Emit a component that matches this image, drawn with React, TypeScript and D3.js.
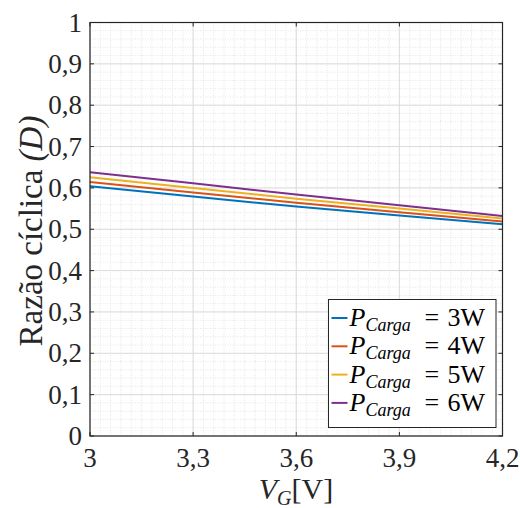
import React from "react";
import * as d3 from "d3";

const vg = [3.0, 3.3, 3.6, 3.9, 4.2];
const d3W = [0.604, 0.579, 0.555, 0.533, 0.512];
const d4W = [0.614, 0.589, 0.564, 0.541, 0.519];
const d5W = [0.626, 0.600, 0.574, 0.550, 0.526];
const d6W = [0.638, 0.611, 0.584, 0.558, 0.532];
const seriesLabels = ["3W", "4W", "5W", "6W"];
const xTicks = [3, 3.3, 3.6, 3.9, 4.2];
const yTicks = [0, 0.1, 0.2, 0.3, 0.4, 0.5, 0.6, 0.7, 0.8, 0.9, 1];

const colors = ["#0072BD", "#D95319", "#EDB120", "#7E2F8E"];
const FONT = "Liberation Serif";

export default function App() {
  const W = 520, H = 508;
  const L = 90, R = 502.5, T = 22.5, B = 436;
  const x = d3.scaleLinear().domain([3, 4.2]).range([L, R]);
  const y = d3.scaleLinear().domain([0, 1]).range([B, T]);
  const series = [d3W, d4W, d5W, d6W];
  const line = d3
    .line<[number, number]>()
    .x((d) => x(d[0]))
    .y((d) => y(d[1]));

  const xMinor = d3.range(0, 41).map((i) => 3 + i * 0.03);
  const yMinor = d3.range(0, 51).map((i) => i * 0.02);
  const fmt = (v: number) => d3.format("~g")(+v.toFixed(2)).replace(".", ",");

  const legX = 328.5, legY = 299.5, legW = 167.5, legH = 128;
  const rowY = (i: number) => legY + 18.5 + i * 28.3;

  return (
    <svg width={W} height={H} style={{ position: "absolute", left: 0, top: 0, background: "#fff" }}>
      <rect x={0} y={0} width={W} height={H} fill="#fff" />
      {/* minor grid */}
      {xMinor.map((v, i) => (
        <line key={"xm" + i} x1={x(v)} x2={x(v)} y1={T} y2={B} stroke="#e0e0e0" strokeWidth={0.8} strokeDasharray="1,1.5" />
      ))}
      {yMinor.map((v, i) => (
        <line key={"ym" + i} x1={L} x2={R} y1={y(v)} y2={y(v)} stroke="#e0e0e0" strokeWidth={0.8} strokeDasharray="1,1.5" />
      ))}
      {/* major grid */}
      {xTicks.map((v, i) => (
        <line key={"xg" + i} x1={x(v)} x2={x(v)} y1={T} y2={B} stroke="#dcdcdc" strokeWidth={1} />
      ))}
      {yTicks.map((v, i) => (
        <line key={"yg" + i} x1={L} x2={R} y1={y(v)} y2={y(v)} stroke="#dcdcdc" strokeWidth={1} />
      ))}
      {/* lines */}
      {series.map((s, k) => (
        <path
          key={"s" + k}
          d={line(vg.map((v, i) => [v, s[i]] as [number, number])) || ""}
          fill="none"
          stroke={colors[k]}
          strokeWidth={2}
        />
      ))}
      {/* ticks */}
      {xTicks.map((v, i) => (
        <g key={"xt" + i}>
          <line x1={x(v)} x2={x(v)} y1={B} y2={B - 4} stroke="#262626" strokeWidth={1} />
          <line x1={x(v)} x2={x(v)} y1={T} y2={T + 4} stroke="#262626" strokeWidth={1} />
          <text x={x(v)} y={467} textAnchor="middle" fontFamily={FONT} fontSize={27} fill="#262626">
            {fmt(v)}
          </text>
        </g>
      ))}
      {yTicks.map((v, i) => (
        <g key={"yt" + i}>
          <line x1={L} x2={L + 4} y1={y(v)} y2={y(v)} stroke="#262626" strokeWidth={1} />
          <line x1={R} x2={R - 4} y1={y(v)} y2={y(v)} stroke="#262626" strokeWidth={1} />
          <text x={82} y={y(v) + 9} textAnchor="end" fontFamily={FONT} fontSize={27} fill="#262626">
            {fmt(v)}
          </text>
        </g>
      ))}
      {/* box */}
      <rect x={L} y={T} width={R - L} height={B - T} fill="none" stroke="#262626" strokeWidth={1.2} />
      {/* legend */}
      <rect x={legX} y={legY} width={legW} height={legH} fill="#fff" stroke="#262626" strokeWidth={1} />
      {seriesLabels.map((lab, i) => (
        <g key={"lg" + i}>
          <line x1={legX + 3} x2={legX + 19} y1={rowY(i)} y2={rowY(i)} stroke={colors[i]} strokeWidth={2} />
          <text x={legX + 21} y={rowY(i) + 8} fontFamily={FONT} fontSize={26} fill="#000">
            <tspan fontStyle="italic">P</tspan>
            <tspan fontStyle="italic" fontSize={18} dy="5">Carga</tspan>
            <tspan x={legX + 96} dy="-5">=</tspan>
            <tspan x={legX + 119}>{lab}</tspan>
          </text>
        </g>
      ))}
      {/* axis labels */}
      <text x={296} y={499} textAnchor="middle" fontFamily={FONT} fontSize={30} fill="#262626">
        <tspan fontStyle="italic">V</tspan>
        <tspan fontStyle="italic" fontSize={20} dy="6">G</tspan>
        <tspan dy="-6">[V]</tspan>
      </text>
      <text
        transform={`translate(42,231) rotate(-90)`}
        textAnchor="middle"
        fontFamily={FONT}
        fontSize={33}
        fill="#262626"
      >
        Razão cíclica <tspan fontStyle="italic">(D)</tspan>
      </text>
    </svg>
  );
}
